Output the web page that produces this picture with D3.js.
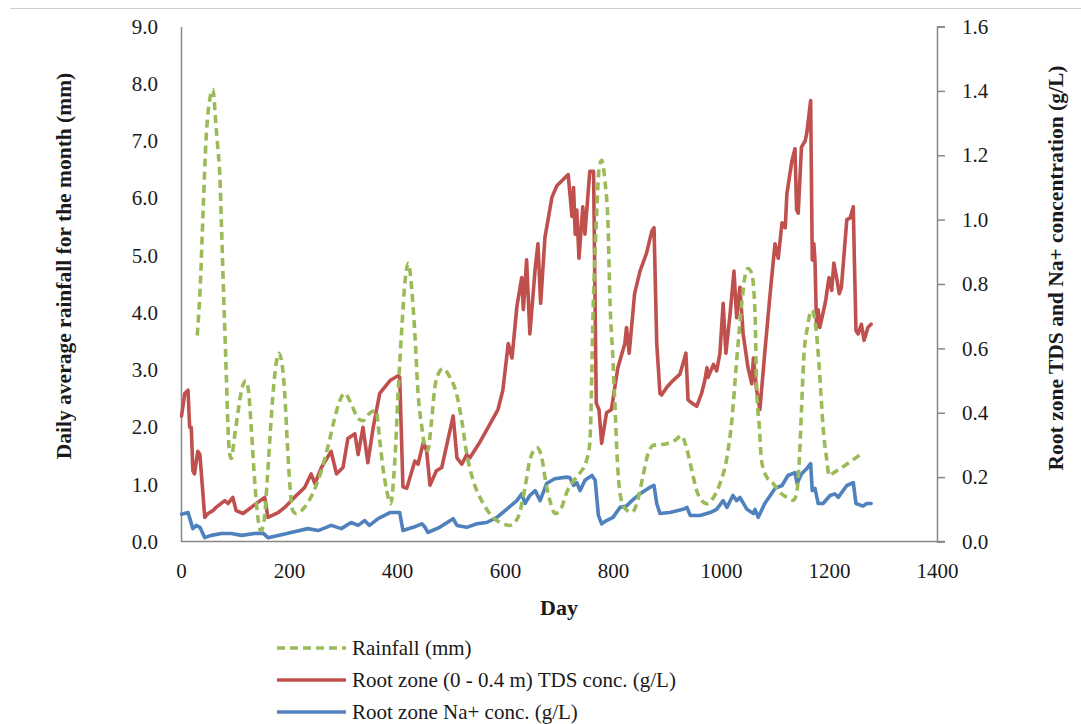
<!DOCTYPE html>
<html>
<head>
<meta charset="utf-8">
<script src="https://cdn.jsdelivr.net/npm/d3@7"></script>
<style>
  html, body { margin: 0; padding: 0; background: #fff; }
  svg { display: block; }
</style>
</head>
<body>
<svg id="chart" width="1081" height="724"></svg>
<script>
// Monthly-average daily rainfall (mm), smoothed curve
const rainDays = [30,35,41,46,53,59,65,68,72,75,78,81,84,87,90,93,99,106,112,120,125,130,136,143,148,154,160,166,172,177,181,187,192,197,202,207,213,229,244,260,275,285,294,303,315,328,337,349,361,368,374,381,388,396,402,409,415,421,427,433,439,446,452,457,464,470,477,485,498,510,520,529,541,560,578,597,609,624,637,646,659,668,674,683,693,705,714,726,739,751,757,764,770,774,779,785,791,794,800,804,808,813,822,835,844,855,865,875,900,915,927,936,946,955,964,974,986,998,1011,1020,1029,1039,1044,1050,1057,1063,1066,1071,1075,1085,1097,1109,1122,1134,1140,1145,1149,1153,1160,1168,1174,1180,1185,1189,1196,1200,1207,1261];
const rainMm = [3.6,4.33,5.79,6.96,7.71,7.9,7.24,6.9,6.37,5.5,4.6,3.74,2.87,2.0,1.54,1.45,1.82,2.29,2.64,2.81,2.64,2.0,1.12,0.37,0.19,0.37,1.12,2.0,2.76,3.16,3.29,3.11,2.59,1.71,0.94,0.54,0.49,0.6,0.84,1.24,1.77,2.17,2.46,2.59,2.41,2.15,2.11,2.24,2.29,1.77,1.29,0.89,0.66,1.42,2.59,3.74,4.56,4.86,4.44,3.64,2.59,2.0,1.64,1.59,2.11,2.69,2.94,3.02,2.87,2.59,2.11,1.54,1.07,0.66,0.42,0.31,0.28,0.42,0.94,1.42,1.64,1.47,1.12,0.72,0.49,0.6,0.85,1.05,1.2,1.42,1.71,4.33,5.79,6.49,6.66,6.31,5.49,4.33,3.16,2.29,1.42,0.84,0.58,0.51,0.66,1.12,1.54,1.68,1.71,1.77,1.85,1.64,1.24,0.89,0.72,0.66,0.77,1.01,1.47,2.11,3.16,4.21,4.61,4.77,4.68,3.99,2.69,2.0,1.42,1.12,1.01,0.86,0.77,0.72,0.84,1.42,2.29,3.16,3.74,4.04,3.86,3.29,2.59,2.0,1.42,1.15,1.19,1.54];

// Root zone (0 - 0.4 m) TDS concentration (g/L)
const tdsDays = [1,7,13,16,19,22,25,31,35,44,50,59,65,81,87,96,102,115,130,155,161,180,192,210,229,241,248,260,278,288,300,309,322,328,337,346,356,368,387,402,405,411,418,433,439,449,455,461,473,483,504,511,520,529,535,554,569,587,596,606,613,622,631,634,640,646,656,661,666,674,687,696,717,724,727,730,733,737,744,748,757,764,769,774,779,788,797,809,822,825,830,840,850,862,872,876,881,887,890,900,911,924,935,939,946,955,964,970,974,976,986,992,998,1004,1009,1017,1024,1029,1035,1041,1050,1057,1060,1066,1072,1081,1091,1100,1106,1113,1119,1122,1131,1137,1140,1143,1149,1156,1159,1166,1169,1172,1174,1177,1180,1183,1189,1194,1200,1205,1209,1214,1219,1223,1233,1239,1245,1247,1250,1254,1260,1265,1272,1278];
const tdsConc = [0.39,0.46,0.47,0.355,0.355,0.22,0.21,0.28,0.27,0.075,0.087,0.096,0.106,0.127,0.118,0.137,0.096,0.087,0.106,0.137,0.075,0.09,0.106,0.137,0.168,0.21,0.18,0.23,0.28,0.21,0.23,0.32,0.335,0.27,0.355,0.245,0.355,0.46,0.5,0.515,0.51,0.17,0.165,0.25,0.24,0.31,0.28,0.175,0.22,0.23,0.39,0.26,0.24,0.27,0.26,0.31,0.355,0.41,0.47,0.615,0.57,0.73,0.82,0.72,0.875,0.645,0.85,0.925,0.74,0.945,1.07,1.105,1.14,1.01,1.1,0.955,1.03,0.88,1.04,0.955,1.15,1.15,0.43,0.41,0.305,0.4,0.41,0.54,0.615,0.665,0.585,0.77,0.84,0.895,0.965,0.975,0.615,0.46,0.455,0.48,0.5,0.52,0.585,0.44,0.43,0.42,0.46,0.5,0.54,0.51,0.55,0.53,0.585,0.74,0.585,0.71,0.84,0.695,0.79,0.645,0.54,0.49,0.57,0.47,0.41,0.585,0.77,0.925,0.88,0.99,0.975,1.08,1.18,1.22,1.03,1.02,1.225,1.245,1.27,1.37,0.875,0.925,0.875,0.665,0.72,0.665,0.71,0.75,0.82,0.78,0.865,0.82,0.77,0.79,1.0,1.005,1.04,0.875,0.655,0.645,0.675,0.625,0.665,0.675];

// Root zone Na+ concentration (g/L)
const naDays = [1,13,22,28,35,44,56,75,93,112,136,152,161,180,204,235,254,278,297,315,328,340,349,365,387,405,411,430,446,452,457,479,504,511,529,548,566,585,603,622,631,637,646,656,665,677,692,714,720,727,733,739,748,761,767,773,779,788,800,813,825,835,850,868,876,881,887,905,930,937,943,961,980,992,1004,1011,1022,1029,1035,1048,1060,1063,1069,1081,1100,1113,1124,1137,1141,1149,1159,1166,1169,1174,1180,1189,1202,1211,1217,1233,1245,1250,1263,1270,1278];
const naConc = [0.085,0.09,0.04,0.05,0.044,0.012,0.019,0.025,0.025,0.019,0.025,0.026,0.012,0.019,0.028,0.04,0.034,0.05,0.04,0.059,0.05,0.065,0.05,0.071,0.09,0.09,0.034,0.044,0.055,0.044,0.028,0.044,0.071,0.05,0.044,0.055,0.059,0.075,0.1,0.127,0.148,0.118,0.143,0.158,0.127,0.18,0.195,0.2,0.199,0.174,0.183,0.158,0.19,0.205,0.19,0.081,0.055,0.065,0.075,0.106,0.11,0.127,0.148,0.168,0.174,0.118,0.087,0.09,0.1,0.106,0.081,0.081,0.09,0.1,0.127,0.106,0.143,0.127,0.137,0.1,0.087,0.1,0.075,0.118,0.165,0.174,0.205,0.214,0.18,0.21,0.227,0.242,0.158,0.165,0.118,0.118,0.143,0.148,0.137,0.174,0.183,0.118,0.11,0.118,0.118];

// Axis ticks
const dayTicks = [0,200,400,600,800,1000,1200,1400];
const rainTicks = [0,1,2,3,4,5,6,7,8,9];
const concTicks = [0,0.2,0.4,0.6,0.8,1.0,1.2,1.4,1.6];

const seriesNames = ["Rainfall (mm)", "Root zone (0 - 0.4 m) TDS conc. (g/L)", "Root zone Na+ conc. (g/L)"];
const colors = { rain: "#9bbb59", tds: "#c0504d", na: "#4f81bd" };

const FONT = "'Liberation Serif', Tinos, 'Times New Roman', 'DejaVu Serif', serif";
const TEXT = "#1a1a1a";
const LINE_W = 3.6;

const svg = d3.select("#chart");
const plot = { left: 181, right: 937, top: 26.5, bottom: 541.5 };
const axisColor = "#888888";

const x = d3.scaleLinear().domain([0, 1400]).range([plot.left, plot.right]);
const yL = d3.scaleLinear().domain([0, 9]).range([plot.bottom, plot.top]);
const yR = d3.scaleLinear().domain([0, 1.6]).range([plot.bottom, plot.top]);

// thin rule across the top of the figure
svg.append("line")
  .attr("x1", 10).attr("x2", 1081).attr("y1", 8.5).attr("y2", 8.5)
  .attr("stroke", "#cfcfcf").attr("stroke-width", 1.2);

function styleTicks(g) {
  g.attr("font-family", null).attr("font-size", null);
  g.selectAll("text")
    .style("font-family", FONT).style("font-size", "21px").attr("fill", TEXT);
}

// Left axis (rainfall)
const gL = svg.append("g").attr("transform", `translate(${plot.left},0)`)
  .call(d3.axisLeft(yL).tickValues(rainTicks).tickSize(0).tickPadding(23).tickFormat(d3.format(".1f")));
gL.select(".domain").attr("stroke", axisColor).attr("stroke-width", 1.5);
styleTicks(gL);

// Right axis (concentration)
const gR = svg.append("g").attr("transform", `translate(${plot.right},0)`)
  .call(d3.axisRight(yR).tickValues(concTicks).tickSize(8).tickSizeOuter(8).tickPadding(17).tickFormat(d3.format(".1f")));
gR.select(".domain").attr("stroke", axisColor).attr("stroke-width", 1.5);
gR.selectAll(".tick line").attr("stroke", axisColor).attr("stroke-width", 1.5);
styleTicks(gR);

// Bottom axis (day)
const gB = svg.append("g").attr("transform", `translate(0,${plot.bottom})`)
  .call(d3.axisBottom(x).tickValues(dayTicks).tickSize(0).tickSizeOuter(0).tickPadding(22).tickFormat(d3.format("d")));
gB.select(".domain").attr("stroke", axisColor).attr("stroke-width", 1.5)
  .attr("d", `M${plot.left},0H${plot.right + 8}`);
styleTicks(gB);

// Axis titles
svg.append("text")
  .attr("transform", `translate(71,266) rotate(-90)`)
  .attr("text-anchor", "middle")
  .style("font-family", FONT).attr("fill", TEXT)
  .style("font-size", "21.5px").style("font-weight", "bold")
  .text("Daily average rainfall for the month (mm)");

svg.append("text")
  .attr("transform", `translate(1063,268) rotate(-90)`)
  .attr("text-anchor", "middle")
  .style("font-family", FONT).attr("fill", TEXT)
  .style("font-size", "21.5px").style("font-weight", "bold")
  .text("Root zone TDS and Na+ concentration (g/L)");

svg.append("text")
  .attr("x", 559).attr("y", 615)
  .attr("text-anchor", "middle")
  .style("font-family", FONT).attr("fill", TEXT)
  .style("font-size", "22px").style("font-weight", "bold")
  .text("Day");

// Series lines
const rainLine = d3.line().x((d, i) => x(rainDays[i])).y(d => yL(d)).curve(d3.curveMonotoneX);
const tdsLine = d3.line().x((d, i) => x(tdsDays[i])).y(d => yR(d));
const naLine = d3.line().x((d, i) => x(naDays[i])).y(d => yR(d));

svg.append("path").attr("d", naLine(naConc))
  .attr("fill", "none").attr("stroke", colors.na).attr("stroke-width", LINE_W)
  .attr("stroke-linejoin", "round").attr("stroke-linecap", "round");

svg.append("path").attr("d", tdsLine(tdsConc))
  .attr("fill", "none").attr("stroke", colors.tds).attr("stroke-width", LINE_W)
  .attr("stroke-linejoin", "round").attr("stroke-linecap", "round");

svg.append("path").attr("d", rainLine(rainMm))
  .attr("fill", "none").attr("stroke", colors.rain).attr("stroke-width", LINE_W)
  .attr("stroke-dasharray", "8,5").attr("stroke-linejoin", "round");

// Legend
const legendRows = [
  { name: seriesNames[0], color: colors.rain, dash: "8,5" },
  { name: seriesNames[1], color: colors.tds, dash: null },
  { name: seriesNames[2], color: colors.na, dash: null }
];
const legend = svg.append("g");
legendRows.forEach((r, i) => {
  const cy = 648 + i * 32;
  legend.append("line")
    .attr("x1", 277).attr("x2", 346).attr("y1", cy).attr("y2", cy)
    .attr("stroke", r.color).attr("stroke-width", LINE_W)
    .attr("stroke-dasharray", r.dash);
  legend.append("text")
    .attr("x", 352).attr("y", cy + 7)
    .style("font-family", FONT).attr("fill", TEXT)
    .style("font-size", "21px")
    .text(r.name);
});
</script>
</body>
</html>
